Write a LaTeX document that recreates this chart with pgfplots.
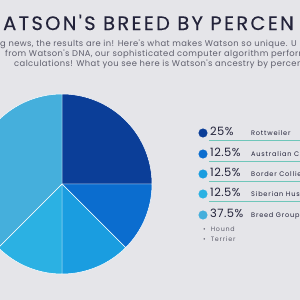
\documentclass[border=0pt]{standalone}
\usepackage{pgfplots}
\pgfplotsset{compat=1.18}
\usepackage{fontspec}
\setmainfont{Poppins}
\newfontfamily\titlefont[LetterSpace=12,FakeBold=0.3]{Poppins}
\newfontfamily\subfont[LetterSpace=5]{Poppins}
\newfontfamily\pctfont[LetterSpace=4]{Poppins}
\newfontfamily\namefont[LetterSpace=12]{Poppins}
\definecolor{bg}{HTML}{E5E5E9}
\definecolor{cA}{HTML}{0B3E98}
\definecolor{cB}{HTML}{0B6DCF}
\definecolor{cC}{HTML}{1A9DE0}
\definecolor{cD}{HTML}{2BB1E3}
\definecolor{cE}{HTML}{45AFDC}
\definecolor{ink}{HTML}{23233A}
\definecolor{grayt}{HTML}{5E5E6C}
\definecolor{teal}{HTML}{70C6BA}
% start (cumulative %), share (%), colour
\newcommand\pieslice[3]{%
  \pgfmathsetmacro\sa{90-3.6*#1}%
  \pgfmathsetmacro\sb{90-3.6*(#1+#2)}%
  \edef\tmp{\noexpand\fill[#3,draw=white,line width=0.5pt] (axis cs:62,116) -- ++(\sa:90bp) arc[start angle=\sa,end angle=\sb,radius=90bp] -- cycle;}%
  \tmp}
\newcommand\legrow[4]{% y, colour, pct, name
  \addplot[only marks,mark=*,mark size=4.3pt,mark options={fill=#2,draw=#2}] coordinates {(203,#1)};
  \node[anchor=mid west,inner sep=0,text=ink,font=\pctfont\fontsize{11.5}{12}\selectfont] at (axis cs:210,#1) {#3};
  \node[anchor=mid west,inner sep=0,text=ink,font=\namefont\fontsize{6.6}{7}\selectfont] at (axis cs:251,#1) {#4};
}
\begin{document}
\begin{tikzpicture}
\clip (0,0) rectangle (300bp,300bp);
\begin{axis}[at={(0,0)},anchor=south west,scale only axis,width=300bp,height=300bp,
  xmin=0,xmax=300,ymin=0,ymax=300,hide axis,clip=true]
\fill[bg] (axis cs:0,0) rectangle (axis cs:300,300);
% pie: Rottweiler 25, Australian 12.5, Border Collie 12.5, Siberian Husky 12.5, Breed Group 37.5
\pieslice{0}{25}{cA}
\pieslice{25}{12.5}{cB}
\pieslice{37.5}{12.5}{cC}
\pieslice{50}{12.5}{cD}
\pieslice{62.5}{37.5}{cE}
% title and text
\node[anchor=base west,inner sep=0,text=ink,font=\titlefont\fontsize{19.5}{20}\selectfont] at (axis cs:3,270) {ATSON'S BREED BY PERCEN};
\node[anchor=base west,inner sep=0,text=grayt,font=\subfont\fontsize{8.4}{9}\selectfont] at (axis cs:0,254) {g news, the results are in! Here's what makes Watson so unique. U};
\node[anchor=base west,inner sep=0,text=grayt,font=\subfont\fontsize{8.4}{9}\selectfont] at (axis cs:5,243.5) {from Watson's DNA, our sophisticated computer algorithm perform};
\node[anchor=base west,inner sep=0,text=grayt,font=\subfont\fontsize{8.4}{9}\selectfont] at (axis cs:14,233.5) {calculations! What you see here is Watson's ancestry by percent};
% legend underlines
\draw[teal,line width=0.7pt] (axis cs:209,160) -- (axis cs:300,160);
\draw[teal,line width=0.7pt] (axis cs:209,139) -- (axis cs:300,139);
\draw[teal,line width=0.7pt] (axis cs:209,119) -- (axis cs:300,119);
\draw[teal,line width=0.7pt] (axis cs:209,99) -- (axis cs:300,99);
% legend
\legrow{167}{cA}{25\%}{Rottweiler}
\legrow{146}{cB}{12.5\%}{Australian Cattle Dog}
\legrow{126}{cC}{12.5\%}{Border Collie}
\legrow{106}{cD}{12.5\%}{Siberian Husky}
\legrow{85}{cE}{37.5\%}{Breed Group}
\node[anchor=mid west,inner sep=0,text=grayt,font=\namefont\fontsize{6.4}{7}\selectfont] at (axis cs:203,71) {\textbullet\ \ Hound};
\node[anchor=mid west,inner sep=0,text=grayt,font=\namefont\fontsize{6.4}{7}\selectfont] at (axis cs:203,61) {\textbullet\ \ Terrier};
\end{axis}
\end{tikzpicture}
\end{document}
